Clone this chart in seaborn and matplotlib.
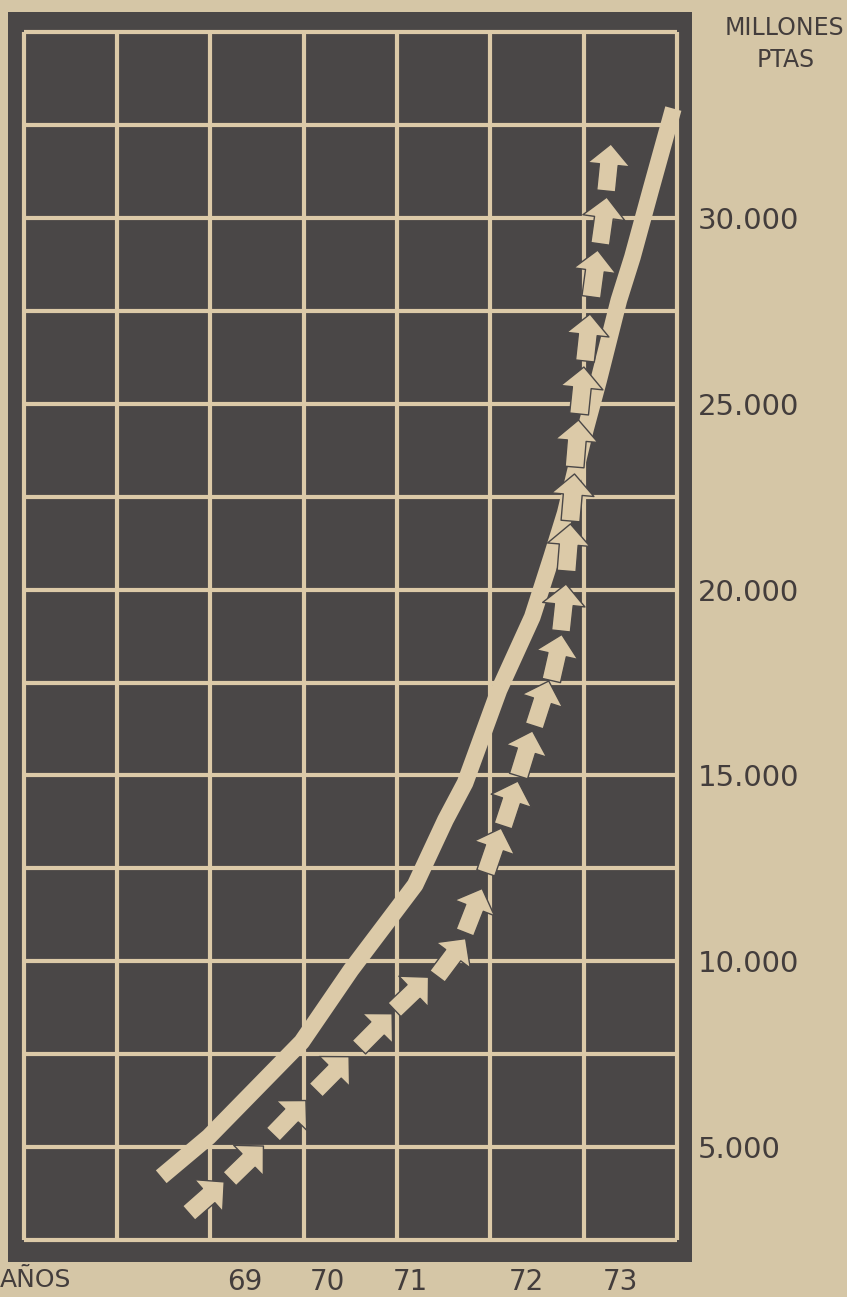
import numpy as np
import pandas as pd
import matplotlib
matplotlib.use('Agg')
import matplotlib.pyplot as plt
import seaborn as sns
from matplotlib.path import Path
from matplotlib.markers import MarkerStyle
from matplotlib.transforms import Affine2D

# --- DATOS ---
# eje x en unidades de columna de la cuadricula (0 a 7)
anos = ['69', '70', '71', '72', '73']
anos_pos = [2.37, 3.25, 4.14, 5.39, 6.39]

valores_eje = [5000, 10000, 15000, 20000, 25000, 30000]
etiquetas_eje = ['5.000', '10.000', '15.000', '20.000', '25.000', '30.000']

# curva continua (millones de pesetas)
linea_x = [1.472, 1.982, 2.978, 3.506, 4.193, 4.518, 4.728, 5.092, 5.448,
           5.655, 5.801, 6.016, 6.160, 6.376, 6.521, 6.717, 6.960]
linea_y = [4195, 5271, 7827, 9764, 12051, 13800, 14795, 17297, 19261,
           20876, 22059, 24292, 25638, 27790, 28947, 30749, 32950]

# serie de flechas
flechas_x = [1.956, 2.381, 2.837, 3.303, 3.759, 4.152, 4.576, 4.817, 5.025,
             5.212, 5.367, 5.544, 5.699, 5.779, 5.826, 5.874, 5.921, 5.969,
             6.038, 6.105, 6.207, 6.265]
flechas_y = [3657, 4599, 5809, 6993, 8150, 9145, 10114, 11378, 12993,
             14257, 15602, 16948, 18185, 19530, 21145, 22490, 23943, 25368,
             26794, 28516, 29942, 31368]

# --- ESTILO ---
PAPEL = '#d5c6a6'
OSCURO = '#4a4747'
CREMA = '#dccaa8'
TINTA = '#433d3c'

sns.set_theme(style='white')
plt.rcParams['font.family'] = ['DejaVu Sans']

fig = plt.figure(figsize=(8.47, 12.97), dpi=100, facecolor=PAPEL)
ax = fig.add_axes([8 / 847, 1 - 1262 / 1297, (692 - 8) / 847, (1262 - 12) / 1297])
ax.set_facecolor(OSCURO)
ax.set_xlim(-0.17, 7.16)
ax.set_ylim(1900, 35550)

# cuadricula cerrada (no llega al borde del marco)
col = np.arange(0, 8)
fil = np.arange(2500, 35001, 2500)
ax.vlines(col, fil[0], fil[-1], color=CREMA, linewidth=3, zorder=1)
ax.hlines(fil, col[0], col[-1], color=CREMA, linewidth=3, zorder=1)
ax.grid(False)

ax.set_xticks(anos_pos, anos)
ax.yaxis.tick_right()
ax.set_yticks(valores_eje, etiquetas_eje)
ax.tick_params(which='both', length=0)
ax.tick_params(axis='y', pad=4, labelsize=21, labelcolor=TINTA)
ax.tick_params(axis='x', pad=4, labelsize=20, labelcolor=TINTA)
for s in ax.spines.values():
    s.set_visible(False)

# linea
df_linea = pd.DataFrame({'x': linea_x, 'y': linea_y})
sns.lineplot(data=df_linea, x='x', y='y', sort=False, estimator=None,
             color=CREMA, linewidth=12, ax=ax, zorder=3,
             solid_capstyle='butt', solid_joinstyle='round')
ax.set_xlabel('')
ax.set_ylabel('')

# flechas orientadas segun la trayectoria
flecha = Path([(-0.5, -0.2), (0.06, -0.2), (0.06, -0.45), (0.5, 0.0),
               (0.06, 0.45), (0.06, 0.2), (-0.5, 0.2), (-0.5, -0.2)],
              closed=True)
pts = ax.transData.transform(np.column_stack([flechas_x, flechas_y]))
d = np.gradient(pts, axis=0)
angulos = np.degrees(np.arctan2(d[:, 1], d[:, 0]))

for x, y, a in zip(flechas_x, flechas_y, angulos):
    m = MarkerStyle(flecha, transform=Affine2D().rotate_deg(a))
    sns.scatterplot(x=[x], y=[y], marker=m, s=34 ** 2, color=CREMA,
                    edgecolor=OSCURO, linewidth=1.0, ax=ax, zorder=4,
                    legend=False)

# textos
fig.text(784 / 847, 1 - 28 / 1297, 'MILLONES', ha='center', va='center',
         fontsize=17, color=TINTA)
fig.text(786 / 847, 1 - 60 / 1297, 'PTAS', ha='center', va='center',
         fontsize=17, color=TINTA)
fig.text(0.0, 1 - 1280 / 1297, 'AÑOS', ha='left', va='center',
         fontsize=18, color=TINTA)

fig.savefig('out.png', dpi=100, facecolor=PAPEL)
